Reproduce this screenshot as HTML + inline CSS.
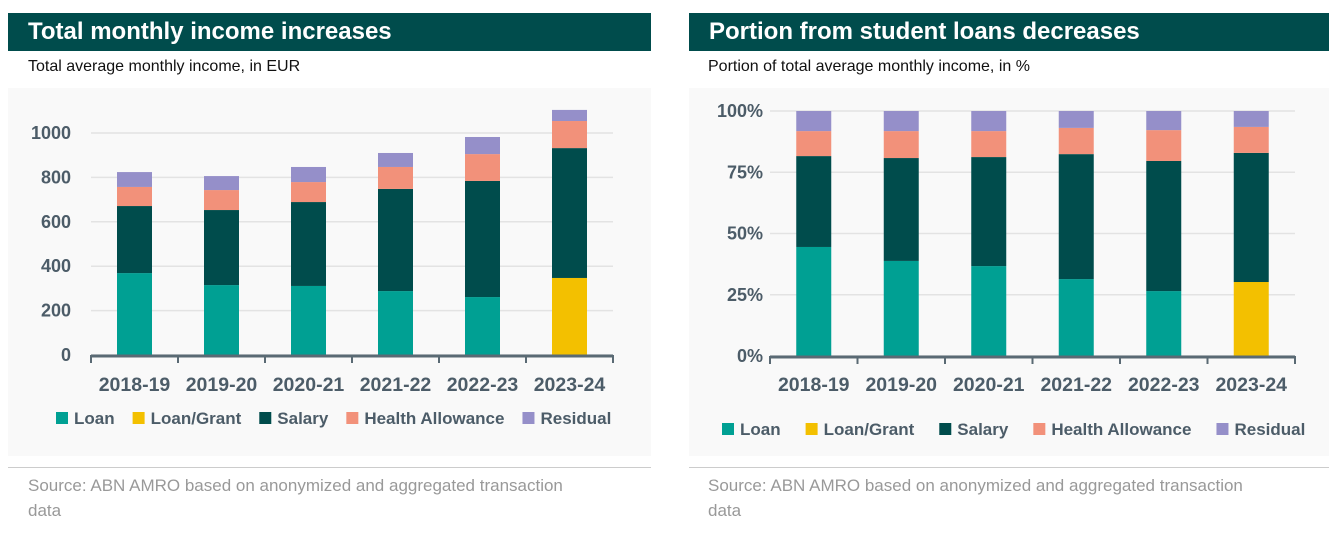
<!DOCTYPE html>
<html><head><meta charset="utf-8"><style>
body{margin:0;width:1337px;height:533px;background:#fff;font-family:"Liberation Sans",sans-serif;overflow:hidden;position:relative}
.tb{position:absolute;top:13px;height:38px;background:#004c4c;color:#fff;font-weight:bold;font-size:24px;line-height:38px;padding-left:20px;box-sizing:border-box}
.st{position:absolute;top:58px;font-size:16px;color:#111}
.src{position:absolute;top:473px;font-size:17px;color:#999;line-height:25px;width:560px}
.rule{position:absolute;top:467px;height:1px;background:#ccc}
svg{position:absolute;top:0;left:0}
</style></head><body>
<div class="tb" style="left:8px;width:643px">Total monthly income increases</div>
<div class="tb" style="left:689px;width:640px">Portion from student loans decreases</div>
<div class="st" style="left:28px">Total average monthly income, in EUR</div>
<div class="st" style="left:708px">Portion of total average monthly income, in %</div>
<div class="rule" style="left:8px;width:643px"></div>
<div class="rule" style="left:689px;width:640px"></div>
<div class="src" style="left:28px">Source: ABN AMRO based on anonymized and aggregated transaction data</div>
<div class="src" style="left:708px">Source: ABN AMRO based on anonymized and aggregated transaction data</div>
<svg id="s" width="1337" height="533"></svg>
<script>
const categories=["2018-19","2019-20","2020-21","2021-22","2022-23","2023-24"];
const loan=[369,315,311,288,261,0];
const loanGrant=[0,0,0,0,0,347];
const salary=[302,338,378,460,523,585];
const health=[86,90,90,99,121,122];
const residual=[67,63,68,63,77,50];
const yTicks=[0,200,400,600,800,1000];
const pLoan=[44.5,38.8,36.7,31.4,26.5,0];
const pLoanGrant=[0,0,0,0,0,30.2];
const pSalary=[37.1,42.0,44.5,51.0,53.1,52.7];
const pHealth=[10.2,11.0,10.6,10.7,12.6,10.6];
const pResidual=[8.2,8.2,8.2,6.9,7.8,6.5];
const pTicks=[0,25,50,75,100];
const colors={Loan:"#00a093",LoanGrant:"#f3c000",Salary:"#004c4c",Health:"#f2917a",Residual:"#958fc9"};
const legend=[["Loan",colors.Loan],["Loan/Grant",colors.LoanGrant],["Salary",colors.Salary],["Health Allowance",colors.Health],["Residual",colors.Residual]];
const NS="http://www.w3.org/2000/svg";
const svg=document.getElementById('s');
function mk(t,a,txt){const e=document.createElementNS(NS,t);for(const k in a)e.setAttribute(k,a[k]);if(txt!==undefined)e.textContent=txt;svg.appendChild(e);return e;}
function chart(o){
  const y=v=>o.y0-(v-o.min)/(o.max-o.min)*(o.y0-o.y1);
  const bw=(o.x1-o.x0)/categories.length;
  let bg=mk('rect',{x:o.bgx,y:88,width:o.bgw,height:368,fill:'#f9f9f9'});
  
  
  o.ticks.forEach(t=>{
    const g=mk('line',{x1:o.x0,x2:o.x1,y1:y(t),y2:y(t),stroke:'#e3e3e3','stroke-width':1.5});
    
    
    const l=mk('text',{x:o.x0-o.lo,y:y(t)+6,'text-anchor':'end','font-size':18,'font-weight':'bold',fill:'#4c5c68'},t+o.suf);
    
    
  });
  const series=[[o.s[0],colors.Loan],[o.s[1],colors.LoanGrant],[o.s[2],colors.Salary],[o.s[3],colors.Health],[o.s[4],colors.Residual]];
  categories.forEach((c,i)=>{
    const cx=o.x0+bw*(i+.5);let acc=0;
    series.forEach(([arr,col])=>{
      const v=arr[i];if(!v)return;
      const r=mk('rect',{x:cx-o.w/2,y:y(acc+v),width:o.w,height:y(acc)-y(acc+v),fill:col});
      
      
      acc+=v;
    });
    const t=mk('text',{x:cx,y:391,'text-anchor':'middle','font-size':19.5,'font-weight':'bold',fill:'#4c5c68'},c);
    
    
  });
  const ax=mk('line',{x1:o.x0,x2:o.x1,y1:o.y0+1,y2:o.y0+1,stroke:'#5a6a74','stroke-width':3});
  
  
  for(let i=0;i<=categories.length;i++){
    const tk=mk('line',{x1:o.x0+bw*i,x2:o.x0+bw*i,y1:o.y0,y2:o.y0+8,stroke:'#5a6a74','stroke-width':2});
    
    
  }
  let lx=o.lx;
  legend.forEach(([n,c])=>{
    const sw=mk('rect',{x:lx,y:o.ly-12,width:12,height:12,fill:c});
    
    
    const t=mk('text',{x:lx+18,y:o.ly,'font-size':17,'font-weight':'bold',fill:'#4c5c68'},n);
    
    
    lx+=18+t.getComputedTextLength()+o.gap;
  });
}
chart({p:'left',x0:91,x1:613,y0:355,y1:133,min:0,max:1000,ticks:yTicks,suf:'',lo:20,w:35,s:[loan,loanGrant,salary,health,residual],bgx:8,bgw:643,lx:56,ly:424,gap:18});
chart({p:'right',x0:770,x1:1295,y0:356,y1:111,min:0,max:100,ticks:pTicks,suf:'%',lo:7,w:35,s:[pLoan,pLoanGrant,pSalary,pHealth,pResidual],bgx:689,bgw:640,lx:722,ly:435,gap:25});
</script>
</body></html>
